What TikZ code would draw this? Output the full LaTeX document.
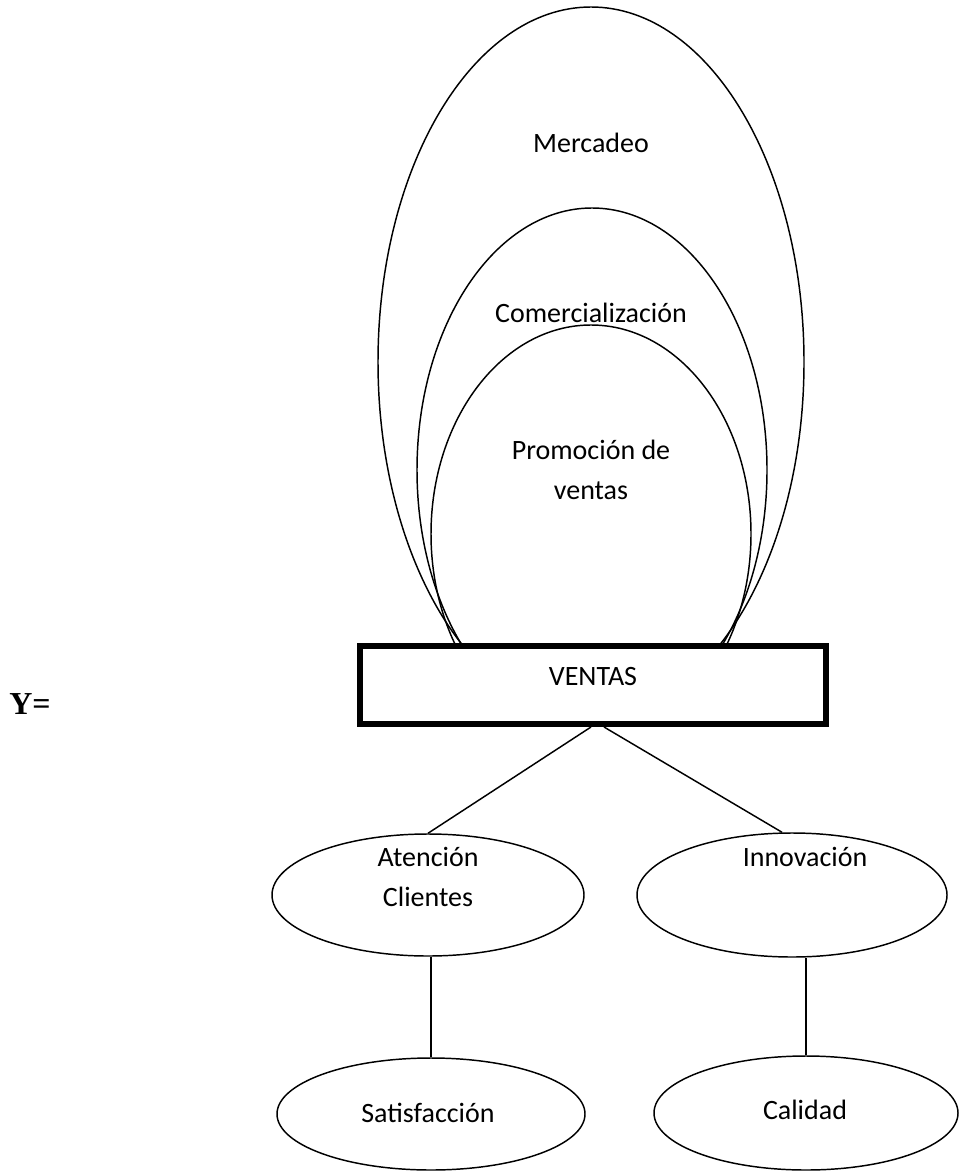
\documentclass[tikz,border=0pt]{standalone}
\usepackage{fontspec}
\setmainfont{Carlito}
\newfontfamily\eqfont{Liberation Serif}
\usetikzlibrary{shapes.geometric,calc}
\begin{document}
\begin{tikzpicture}[x=0.75pt,y=-0.75pt,
  every node/.style={inner sep=0pt},
  txt/.style={font=\fontsize{21}{30}\selectfont, align=center},
  ring/.style={ellipse, draw, line width=1.1pt},
  link/.style={line width=1.1pt},
  salesbox/.style={rectangle, draw, fill=white, line width=4.5pt,
    minimum width=349.5pt, minimum height=58.5pt}]
\useasboundingbox (0,0) rectangle (960,1176);

% nested concepts above the sales box (their lower ends hide behind it)
\begin{scope}
  \clip (0,0) rectangle (960,646);
  \node[ring, minimum width=319.5pt, minimum height=532.5pt] (merc) at (591,362) {};
  \node[ring, minimum width=262.5pt, minimum height=393pt] (comer) at (592,470) {};
  \node[ring, minimum width=240pt, minimum height=313.5pt] (promo) at (591,534) {};
\end{scope}
\node[txt] (tmerc) at (591,143) {Mercadeo};
\node[txt] (tcomer) at (591,313) {Comercialización};
\node[txt] (tpromo) at (591,470) {Promoción de\\ventas};

% central box
\node[salesbox] (ventas) at (593,685) {};
\node[txt] (tventas) at (593,677) {VENTAS};

% equation label
\node[font=\eqfont\bfseries\fontsize{24}{28}\selectfont] (yeq) at (30,704) {Y=};

% lower branches
\node[ring, minimum width=234pt, minimum height=91.5pt] (atn) at (428,895) {};
\node[ring, minimum width=232.5pt, minimum height=93pt] (innov) at (792,895) {};
\node[ring, minimum width=231pt, minimum height=84pt] (satis) at (431,1114) {};
\node[ring, minimum width=228pt, minimum height=85.5pt] (calid) at (806,1113) {};
\node[txt] (tatn) at (428,877) {Atención\\Clientes};
\node[txt] (tinnov) at (805,857) {Innovación};
\node[txt] (tsatis) at (428,1113) {Satisfacción};
\node[txt] (tcalid) at (805,1110) {Calidad};

\draw[link] ($(ventas.south)+(-2,0)$) -- (atn.north);
\draw[link] ($(ventas.south)+(11,0)$) -- ($(innov.north)+(-10,0)$);
\draw[link] (satis.north) -- (satis.north |- atn.south);
\draw[link] (calid.north) -- (calid.north |- innov.south);
\end{tikzpicture}
\end{document}
